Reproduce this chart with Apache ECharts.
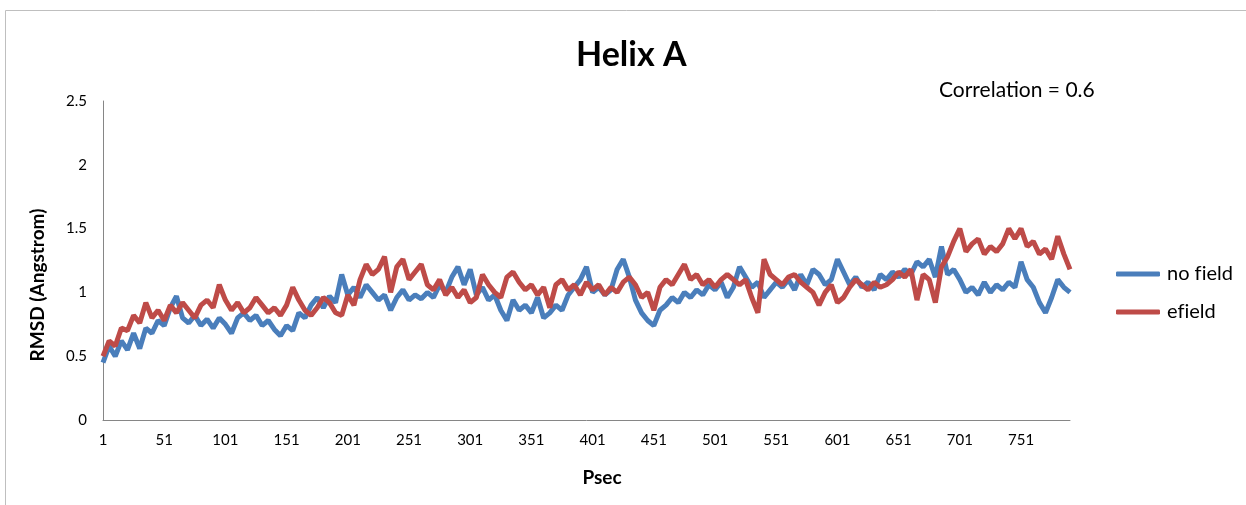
<!DOCTYPE html>
<html>
<head>
<meta charset="utf-8">
<script src="https://cdn.jsdelivr.net/npm/echarts@6/dist/echarts.min.js"></script>
<style>
html,body{margin:0;padding:0;background:#fff;}
#chart{width:1246px;height:505px;}
</style>
</head>
<body>
<div id="chart"></div>
<script>
// Psec sampled every 5 steps (1, 6, 11, ... 791)
const psec = [];
for (let p = 1; p <= 791; p += 5) psec.push(String(p));

const noField = [
0.45,0.58,0.50,0.62,0.55,0.68,0.56,0.72,0.68,0.78,
0.74,0.88,0.97,0.80,0.76,0.82,0.74,0.79,0.72,0.80,
0.75,0.68,0.80,0.84,0.78,0.82,0.74,0.78,0.71,0.66,
0.74,0.70,0.84,0.80,0.90,0.96,0.88,0.97,0.92,1.14,
0.98,1.04,0.96,1.06,1.00,0.94,0.98,0.86,0.96,1.02,
0.94,0.98,0.95,1.00,0.96,1.06,1.00,1.12,1.20,1.06,
1.18,0.98,1.04,0.94,0.98,0.86,0.78,0.94,0.86,0.90,
0.84,0.96,0.80,0.84,0.90,0.86,0.98,1.04,1.10,1.20,
1.00,1.04,0.98,1.02,1.18,1.26,1.12,0.94,0.84,0.78,
0.74,0.86,0.90,0.96,0.92,1.00,0.96,1.02,0.98,1.06,
1.02,1.08,0.96,1.04,1.20,1.12,1.04,1.08,0.96,1.02,
1.08,1.04,1.10,1.02,1.14,1.06,1.18,1.14,1.06,1.10,
1.26,1.16,1.06,1.12,1.04,1.08,1.02,1.14,1.10,1.16,
1.12,1.18,1.14,1.24,1.20,1.26,1.12,1.36,1.14,1.18,
1.10,1.00,1.04,0.98,1.08,1.00,1.06,1.02,1.08,1.04,
1.24,1.10,1.04,0.92,0.84,0.96,1.10,1.04,1.00
];

const eField = [
0.50,0.62,0.58,0.72,0.70,0.82,0.76,0.92,0.80,0.86,
0.78,0.90,0.84,0.92,0.86,0.80,0.90,0.94,0.88,1.06,
0.94,0.86,0.92,0.84,0.88,0.96,0.90,0.84,0.88,0.82,
0.90,1.04,0.94,0.86,0.82,0.88,0.96,0.92,0.84,0.82,
0.98,0.90,1.10,1.22,1.14,1.18,1.28,1.00,1.20,1.26,
1.10,1.16,1.22,1.06,1.02,1.10,0.98,1.04,0.96,1.02,
0.92,0.96,1.14,1.06,1.00,0.96,1.12,1.16,1.08,1.02,
1.06,0.98,1.04,0.88,1.06,1.10,1.02,1.06,0.98,1.08,
1.02,1.06,0.98,1.04,1.00,1.08,1.12,1.06,0.96,1.00,
0.86,1.04,1.10,1.06,1.14,1.22,1.10,1.14,1.06,1.10,
1.04,1.10,1.14,1.10,1.06,1.10,0.96,0.84,1.26,1.14,
1.10,1.06,1.12,1.14,1.08,1.04,1.00,0.90,1.00,1.06,
0.92,0.96,1.04,1.10,1.06,1.02,1.08,1.04,1.06,1.10,
1.16,1.12,1.18,0.94,1.14,1.10,0.92,1.20,1.28,1.40,
1.50,1.32,1.38,1.42,1.30,1.36,1.32,1.38,1.50,1.42,
1.50,1.36,1.40,1.30,1.34,1.26,1.44,1.30,1.18
];

const yTicks = [0, 0.5, 1, 1.5, 2, 2.5];

const FONT = 'Lato, "Open Sans", "Noto Sans", sans-serif';
const chart = echarts.init(document.getElementById('chart'), null, {renderer: 'canvas'});
chart.setOption({
  backgroundColor: '#ffffff',
  animation: false,
  title: [
    { text: 'Helix A', left: 571, top: 33,
      textStyle: { fontFamily: FONT, fontSize: 34, fontWeight: 'bold', color: '#000' } },
    { text: 'Correlation = 0.6', left: 934, top: 75,
      textStyle: { fontFamily: FONT, fontSize: 21, fontWeight: 'normal', color: '#000' } }
  ],
  graphic: [
    { type: 'rect', shape: { x: 5.5, y: 10.5, width: 1400, height: 700 },
      style: { fill: 'none', stroke: '#bfbfbf', lineWidth: 1 }, silent: true },
    { type: 'text', x: 602, y: 478,
      style: { text: 'Psec', fontFamily: FONT, fontSize: 19, fontWeight: 'bold', fill: '#000',
               align: 'center', verticalAlign: 'middle' }, silent: true },
    { type: 'text', x: 38, y: 285, rotation: Math.PI / 2,
      style: { text: 'RMSD (Angstrom)', fontFamily: FONT, fontSize: 19, fontWeight: 'bold', fill: '#000',
               align: 'center', verticalAlign: 'middle' }, silent: true }
  ],
  legend: {
    orient: 'vertical', left: 1111, top: 259, itemGap: 18,
    itemWidth: 44, itemHeight: 5, icon: 'roundRect',
    textStyle: { fontFamily: FONT, fontSize: 20, color: '#000', padding: [0, 0, 0, 2] },
    data: ['no field', 'efield'],
    formatter: n => n.replace('fi', 'f\u200Ci')
  },
  grid: { left: 103, right: 176, top: 101, bottom: 85, containLabel: false },
  xAxis: {
    type: 'category', data: psec, boundaryGap: false,
    axisLine: { lineStyle: { color: '#868686', width: 1 } },
    axisTick: { show: false },
    axisLabel: { interval: 9, fontFamily: FONT, fontSize: 15, color: '#000', margin: 13 },
    splitLine: { show: false }
  },
  yAxis: {
    type: 'value', min: 0, max: 2.5, interval: 0.5,
    axisLine: { show: true, lineStyle: { color: '#868686', width: 1 } },
    axisTick: { show: false },
    axisLabel: { fontFamily: FONT, fontSize: 15, color: '#000', margin: 16,
      formatter: v => yTicks.includes(v) ? String(v) : '' },
    splitLine: { show: false }
  },
  series: [
    { name: 'no field', type: 'line', data: noField, showSymbol: false, symbol: 'none',
      lineStyle: { color: '#4A7EBB', width: 5 }, itemStyle: { color: '#4A7EBB' } },
    { name: 'efield', type: 'line', data: eField, showSymbol: false, symbol: 'none',
      lineStyle: { color: '#BE4B48', width: 5 }, itemStyle: { color: '#BE4B48' } }
  ]
});
</script>
</body>
</html>
